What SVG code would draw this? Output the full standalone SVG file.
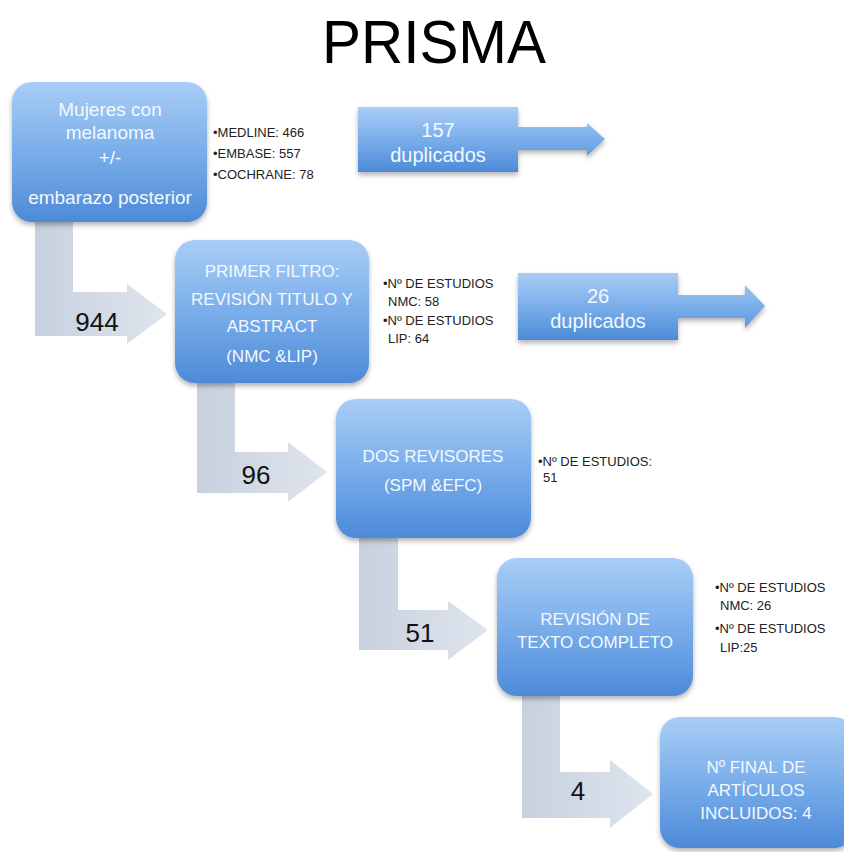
<svg xmlns="http://www.w3.org/2000/svg" width="844" height="852" viewBox="0 0 844 852">
<defs>
<linearGradient id="boxGrad" x1="0" y1="0" x2="0" y2="1">
<stop offset="0" stop-color="#a9cdf6"/>
<stop offset="0.5" stop-color="#7aaeea"/>
<stop offset="1" stop-color="#4d8ad8"/>
</linearGradient>
<linearGradient id="arrowGrad" x1="0" y1="0" x2="1" y2="0">
<stop offset="0" stop-color="#c7d0de"/>
<stop offset="1" stop-color="#dfe5ee"/>
</linearGradient>
<filter id="shadow" x="-10%" y="-10%" width="130%" height="130%">
<feDropShadow dx="0" dy="3" stdDeviation="2.5" flood-color="#000" flood-opacity="0.3"/>
</filter>
</defs>
<style>
.box{fill:url(#boxGrad);filter:url(#shadow);}
.conn{fill:url(#arrowGrad);}
.bt{font-family:"Liberation Sans",Arial,sans-serif;fill:#f4f8ff;text-anchor:middle;}
.note{font-family:"Liberation Sans",Arial,sans-serif;font-size:13px;fill:#222;}
.num{font-family:"Liberation Sans",Arial,sans-serif;font-size:26px;fill:#111;text-anchor:middle;}
</style>
<rect width="844" height="852" fill="#ffffff"/>
<text x="434" y="63" font-family="Liberation Sans, Arial, sans-serif" font-size="62" fill="#000" text-anchor="middle" textLength="224" lengthAdjust="spacingAndGlyphs">PRISMA</text>

<g id="connectors">
<path class="conn" d="M35 200 H73 V292 H127 V284 L167 314 L127 344 V336 H35 Z"/>
<path class="conn" d="M197 360 H235 V452 H288 V442 L327 472 L288 502 V493 H197 Z"/>
<path class="conn" d="M359 520 H398 V610 H448 V601 L488 630 L448 660 V650 H359 Z"/>
<path class="conn" d="M522 680 H560 V772 H610 V760 L653 794 L610 828 V818 H522 Z"/>
<text class="num" x="97" y="331">944</text>
<text class="num" x="256" y="484">96</text>
<text class="num" x="420" y="642">51</text>
<text class="num" x="578" y="800">4</text>
</g>

<g id="n1">
<rect class="box" x="12" y="82" width="195" height="140" rx="20"/>
<text class="bt" font-size="19" x="110" y="116">Mujeres con</text>
<text class="bt" font-size="19" x="110" y="139">melanoma</text>
<text class="bt" font-size="19" x="110" y="164">+/-</text>
<text class="bt" font-size="19" x="110" y="204">embarazo posterior</text>
</g>
<g id="n1-notes">
<text class="note" x="213" y="137">•MEDLINE: 466</text>
<text class="note" x="213" y="158">•EMBASE: 557</text>
<text class="note" x="213" y="179">•COCHRANE: 78</text>
</g>

<g id="dup1">
<path class="box" d="M358 107 H518 V127 H587 V123 L605 139 L587 156 V150 H518 V172 H358 Z"/>
<text class="bt" font-size="20" x="438" y="137">157</text>
<text class="bt" font-size="20" x="438" y="162">duplicados</text>
</g>

<g id="n2">
<rect class="box" x="175" y="240" width="194" height="143" rx="20"/>
<text class="bt" font-size="17" x="272" y="277">PRIMER FILTRO:</text>
<text class="bt" font-size="17" x="272" y="305">REVISIÓN TITULO Y</text>
<text class="bt" font-size="17" x="272" y="332">ABSTRACT</text>
<text class="bt" font-size="17" x="272" y="362">(NMC &amp;LIP)</text>
</g>
<g id="n2-notes">
<text class="note" x="383" y="288">•Nº DE ESTUDIOS</text>
<text class="note" x="388" y="306">NMC: 58</text>
<text class="note" x="383" y="325">•Nº DE ESTUDIOS</text>
<text class="note" x="388" y="343">LIP: 64</text>
</g>

<g id="dup2">
<path class="box" d="M518 273 H678 V295 H745 V285 L765 306 L745 328 V318 H678 V340 H518 Z"/>
<text class="bt" font-size="20" x="598" y="303">26</text>
<text class="bt" font-size="20" x="598" y="328">duplicados</text>
</g>

<g id="n3">
<rect class="box" x="336" y="399" width="195" height="139" rx="20"/>
<text class="bt" font-size="17" x="433" y="462">DOS REVISORES</text>
<text class="bt" font-size="17" x="433" y="491">(SPM &amp;EFC)</text>
</g>
<g id="n3-notes">
<text class="note" x="538" y="466">•Nº DE ESTUDIOS:</text>
<text class="note" x="543" y="482">51</text>
</g>

<g id="n4">
<rect class="box" x="497" y="558" width="196" height="138" rx="20"/>
<text class="bt" font-size="17" x="595" y="625">REVISIÓN DE</text>
<text class="bt" font-size="17" x="595" y="648">TEXTO COMPLETO</text>
</g>
<g id="n4-notes">
<text class="note" x="715" y="592">•Nº DE ESTUDIOS</text>
<text class="note" x="720" y="610">NMC: 26</text>
<text class="note" x="715" y="633">•Nº DE ESTUDIOS</text>
<text class="note" x="720" y="652">LIP:25</text>
</g>

<g id="n5">
<rect class="box" x="660" y="717" width="194" height="131" rx="20"/>
<text class="bt" font-size="17" x="756" y="773">Nº FINAL DE</text>
<text class="bt" font-size="17" x="756" y="796">ARTÍCULOS</text>
<text class="bt" font-size="17" x="756" y="819">INCLUIDOS: 4</text>
</g>
</svg>
